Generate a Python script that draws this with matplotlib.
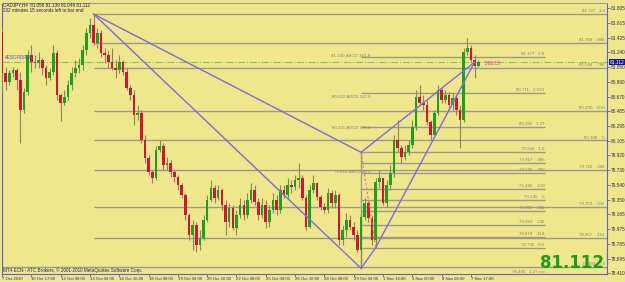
import numpy as np
import matplotlib.pyplot as plt
from matplotlib.transforms import blended_transform_factory

plt.rcParams["font.family"] = ["Liberation Sans", "DejaVu Sans"]

# CADJPY H4, 7 Oct - 7 Nov 2010
first_open = 81.50
closes = [80.97, 80.86, 80.97, 81.01, 80.88, 80.50, 80.73, 81.20, 81.11, 81.10,
          81.14, 81.04, 80.91, 80.98, 81.23, 80.69, 80.59, 80.66, 80.82, 80.97,
          81.04, 81.07, 81.27, 81.48, 81.59, 81.36, 81.48, 81.23, 81.20, 81.11,
          81.04, 81.01, 81.11, 80.98, 80.78, 80.69, 80.43, 80.46, 80.11, 79.88,
          79.70, 79.63, 79.99, 80.04, 79.79, 79.82, 79.70, 79.64, 79.54, 79.41,
          79.15, 78.90, 79.02, 78.77, 78.86, 79.09, 79.35, 79.50, 79.37, 79.47,
          79.28, 79.06, 79.24, 78.99, 79.15, 79.28, 79.15, 79.35, 79.47, 79.32,
          79.15, 79.28, 79.06, 79.22, 79.35, 79.22, 79.47, 79.41, 79.54, 79.51,
          79.60, 79.63, 79.37, 79.00, 79.47, 79.56, 79.38, 79.26, 79.22, 79.43,
          79.31, 79.41, 78.83, 78.96, 79.09, 79.00, 78.90, 78.70, 79.13, 79.31,
          79.11, 78.83, 79.58, 79.63, 79.31, 79.54, 79.69, 80.11, 80.01, 79.90,
          79.96, 80.05, 80.28, 80.66, 80.59, 80.56, 80.34, 80.18, 80.46, 80.75,
          80.63, 80.69, 80.56, 80.65, 80.50, 80.37, 81.24, 81.29, 81.14, 81.058,
          81.112]
highs = [81.55, 81.05, 81.01, 81.05, 81.04, 80.98, 80.78, 81.27, 81.33, 81.20,
         81.24, 81.16, 81.07, 81.04, 81.33, 81.27, 80.72, 80.75, 80.88, 81.05,
         81.14, 81.16, 81.33, 81.55, 81.68, 81.73, 81.55, 81.52, 81.29, 81.27,
         81.29, 81.14, 81.20, 81.14, 81.04, 80.82, 80.75, 80.56, 80.50, 80.18,
         79.92, 79.73, 80.04, 80.11, 80.08, 79.90, 79.86, 79.73, 79.67, 79.56,
         79.43, 79.18, 79.09, 79.06, 78.96, 79.15, 79.41, 79.60, 79.54, 79.54,
         79.50, 79.35, 79.31, 79.28, 79.22, 79.37, 79.35, 79.43, 79.56, 79.54,
         79.37, 79.37, 79.35, 79.28, 79.43, 79.41, 79.54, 79.54, 79.63, 79.60,
         79.67, 79.82, 79.67, 79.41, 79.54, 79.67, 79.58, 79.41, 79.31, 79.50,
         79.47, 79.47, 79.43, 79.02, 79.18, 79.15, 79.06, 78.96, 79.18, 79.37,
         79.35, 79.15, 79.63, 79.73, 79.63, 79.60, 79.79, 80.18, 80.37, 80.05,
         80.05, 80.11, 80.37, 80.75, 80.82, 80.69, 80.63, 80.37, 80.50, 80.82,
         80.78, 80.75, 80.73, 80.73, 80.69, 80.56, 81.29, 81.42, 81.33, 81.20,
         81.139]
lows = [80.72, 80.75, 80.82, 80.92, 80.75, 80.08, 80.46, 80.69, 80.98, 81.04,
        81.04, 80.95, 80.82, 80.88, 80.95, 80.63, 80.36, 80.56, 80.63, 80.75,
        80.92, 80.97, 81.01, 81.20, 81.42, 81.33, 81.29, 81.18, 81.10, 81.04,
        81.01, 80.91, 80.97, 80.95, 80.75, 80.63, 80.31, 80.37, 80.08, 79.82,
        79.67, 79.56, 79.60, 79.96, 79.73, 79.73, 79.64, 79.58, 79.47, 79.37,
        79.09, 78.83, 78.70, 78.68, 78.70, 78.83, 79.06, 79.32, 79.31, 79.35,
        79.22, 78.90, 79.00, 78.96, 78.90, 79.11, 79.09, 79.11, 79.31, 79.28,
        79.09, 79.11, 78.99, 79.00, 79.18, 79.15, 79.18, 79.37, 79.37, 79.43,
        79.47, 79.50, 79.35, 78.96, 78.99, 79.43, 79.35, 79.22, 79.18, 79.18,
        79.24, 79.24, 78.77, 78.77, 78.87, 78.96, 78.83, 78.68, 78.47, 79.09,
        79.06, 78.77, 78.73, 79.50, 79.28, 79.26, 79.47, 79.64, 79.96, 79.82,
        79.86, 79.92, 80.01, 80.24, 80.56, 80.50, 80.31, 80.11, 80.18, 80.43,
        80.59, 80.59, 80.50, 80.50, 80.43, 80.01, 80.34, 81.20, 81.11, 80.91,
        81.049]

date_ticks = [0, 8, 16, 24, 32, 40, 48, 56, 64, 72, 80, 88, 96, 104, 112, 120, 128]
date_labels = ["7 Oct 2010", "10 Oct 17:00", "12 Oct 00:00", "13 Oct 08:00",
               "14 Oct 16:00", "18 Oct 00:00", "19 Oct 08:00", "20 Oct 16:00",
               "22 Oct 00:00", "25 Oct 08:00", "26 Oct 16:00", "28 Oct 00:00",
               "29 Oct 08:00", "1 Nov 16:00", "3 Nov 00:00", "4 Nov 08:00",
               "7 Nov 17:00"]
price_ticks = [81.805, 81.615, 81.425, 81.240, 81.050, 80.860, 80.670, 80.485,
               80.295, 80.105, 79.920, 79.730, 79.540, 79.350, 79.165, 78.975,
               78.785, 78.595, 78.410]

# XA retracement (drawn from X to the right edge)
xa_levels = [81.727, 81.358, 81.034, 80.490, 80.108, 79.725, 79.253, 78.857, 78.489]
xa_names = ["1.0", ".886", ".786", ".618", ".5", ".382", ".236", ".114", "0.0"]
# CB fibo (drawn from B to the label column)
cb_levels = [81.177, 80.711, 80.286, 79.956, 79.817, 79.695, 79.488, 79.345,
             79.202, 79.023, 78.874, 78.735]
cb_names = ["2.0", "1.618", "1.27", "1.0", ".886", ".786", ".618", ".5",
            ".382", ".236", ".114", "0.0"]
abcd_levels = [81.149, 80.632, 80.231, 79.664]
abcd_names = ["161.8", "127.0", "100.0", "61.8"]

# pattern points (bar, price)
pt_x = (25, 81.727)
pt_a = (98, 78.47)
pt_b = (98, 79.956)
pt_c = (102, 78.735)
pt_d = (129, 81.112)
last_price = 81.112

bg = "#f0e68c"
W, H = 625, 282
fig = plt.figure(figsize=(W / 100, H / 100), dpi=100, facecolor=bg)
ax = fig.add_axes([2 / W, (H - 274) / H, 605 / W, 271 / H], facecolor=bg)

px_per_bar = 3.67
ax.set_xlim((2 - 1) / px_per_bar, (607 - 1) / px_per_bar)
ax.set_ylim(78.397, 81.869)

# candles
closes = np.array(closes)
opens = np.concatenate([[first_open], closes[:-1]])
highs = np.maximum(highs, np.maximum(opens, closes))
lows = np.minimum(lows, np.minimum(opens, closes))
idx = np.arange(len(closes))
up = closes >= opens
ax.vlines(idx, lows, highs, color="#8a8660", lw=0.8, zorder=3)
body = np.maximum(np.abs(closes - opens), 0.008)
ax.bar(idx[up], body[up], bottom=opens[up], width=0.72, color="#1ea01e", zorder=4)
ax.bar(idx[~up], body[~up], bottom=closes[~up], width=0.72, color="#cc1838", zorder=4)

# fib lines and labels
fib_col = "#9c9a88"
txt_col = "#85857c"
lab_fs = 3.2
xmax = ax.get_xlim()[1]
for lvl, nm in zip(xa_levels, xa_names):
    x0 = 0 if nm == "0.0" else pt_x[0]
    ax.hlines(lvl, x0, xmax, color=fib_col, lw=1.0, zorder=2)
    ax.text(164.5, lvl + 0.012, "%.3f   %s" % (lvl, nm), fontsize=lab_fs,
            color=txt_col, ha="right", va="bottom", zorder=5)
for lvl, nm in zip(cb_levels, cb_names):
    ax.hlines(lvl, pt_b[0], 148.2, color=fib_col, lw=1.0, zorder=2)
    ax.text(148.0, lvl + 0.012, "%.3f   %s" % (lvl, nm), fontsize=lab_fs,
            color=txt_col, ha="right", va="bottom", zorder=5)
ax.text(148.0, 78.42, "78.405   1.27 ext", fontsize=lab_fs, color=txt_col,
        ha="right", va="center", zorder=5)
for lvl, nm in zip(abcd_levels, abcd_names):
    ax.text(100.5, lvl + 0.012, "%.3f ABCD %s" % (lvl, nm), fontsize=lab_fs,
            color=txt_col, ha="right", va="bottom", zorder=5)

# bid line
ax.axhline(last_price, color="#84c850", lw=0.8, ls="-.", zorder=2)

# harmonic pattern
pcol = "#7b6cdc"
for p, q in [(pt_x, pt_a), (pt_x, pt_b), (pt_b, pt_d), (pt_c, pt_d), (pt_a, pt_c)]:
    ax.plot([p[0], q[0]], [p[1], q[1]], color=pcol, lw=1.0, zorder=6)
ax.plot([pt_b[0], pt_c[0]], [pt_b[1], pt_c[1]], color="#f07050", lw=0.8,
        ls=(0, (2, 2)), zorder=6)
ax.vlines(pt_b[0], pt_a[1], pt_b[1], color=fib_col, lw=1.0, zorder=2)

ax.text(131.5, last_price - 0.02, "*202/15", fontsize=3.5, color="#e030d8",
        ha="left", va="center", zorder=7)
ax.text(0.8, last_price + 0.06, "#ESORDRH4", fontsize=3.3, color="#5050c0",
        ha="left", va="center", zorder=7)

# axes styling
axis_col = "#6060c8"
for s in ["left", "right", "bottom"]:
    ax.spines[s].set_color(axis_col)
    ax.spines[s].set_linewidth(0.8)
ax.spines["top"].set_color("#a0a0a0")
ax.spines["top"].set_linewidth(0.8)

ax.yaxis.tick_right()
ax.set_yticks(price_ticks)
ax.set_yticklabels(["%.3f" % v for v in price_ticks])
ax.tick_params(axis="y", labelsize=3.4, length=2, width=0.6, color=axis_col,
               labelcolor="#303050", pad=1)
ax.set_xticks(date_ticks)
ax.set_xticklabels(date_labels)
ax.tick_params(axis="x", labelsize=3.1, length=2, width=0.6, color=axis_col,
               labelcolor="#303050", pad=0.5)
for lab in ax.get_xticklabels():
    lab.set_ha("left")

trans = blended_transform_factory(ax.transAxes, ax.transData)
ax.text(1.004, last_price, "81.112", transform=trans, fontsize=3.4, color="white",
        ha="left", va="center", zorder=8, clip_on=False,
        bbox=dict(facecolor="#1818a8", edgecolor="none", pad=0.4))

# header, footer and big price
fig.text(3 / W, 1 - 2 / H, "CADJPY,H4  81.058 81.139 81.049 81.112",
         fontsize=3.3, color="#202050", ha="left", va="top")
fig.text(3 / W, 1 - 8 / H, "202 minutes 15 seconds left to bar end",
         fontsize=3.3, color="#202050", ha="left", va="top")
fig.text(3 / W, 1 - 270 / H,
         "MT4 ECN - ATC Brokers, \u00a9 2001-2010 MetaQuotes Software Corp.",
         fontsize=3.3, color="#202070", ha="left", va="center")
fig.text(604 / W, 1 - 268 / H, "81.112", fontsize=12, fontweight="bold",
         family="DejaVu Sans", color="#1f9a1f", ha="right", va="baseline")

fig.savefig("out.png", dpi=100, facecolor=bg)
